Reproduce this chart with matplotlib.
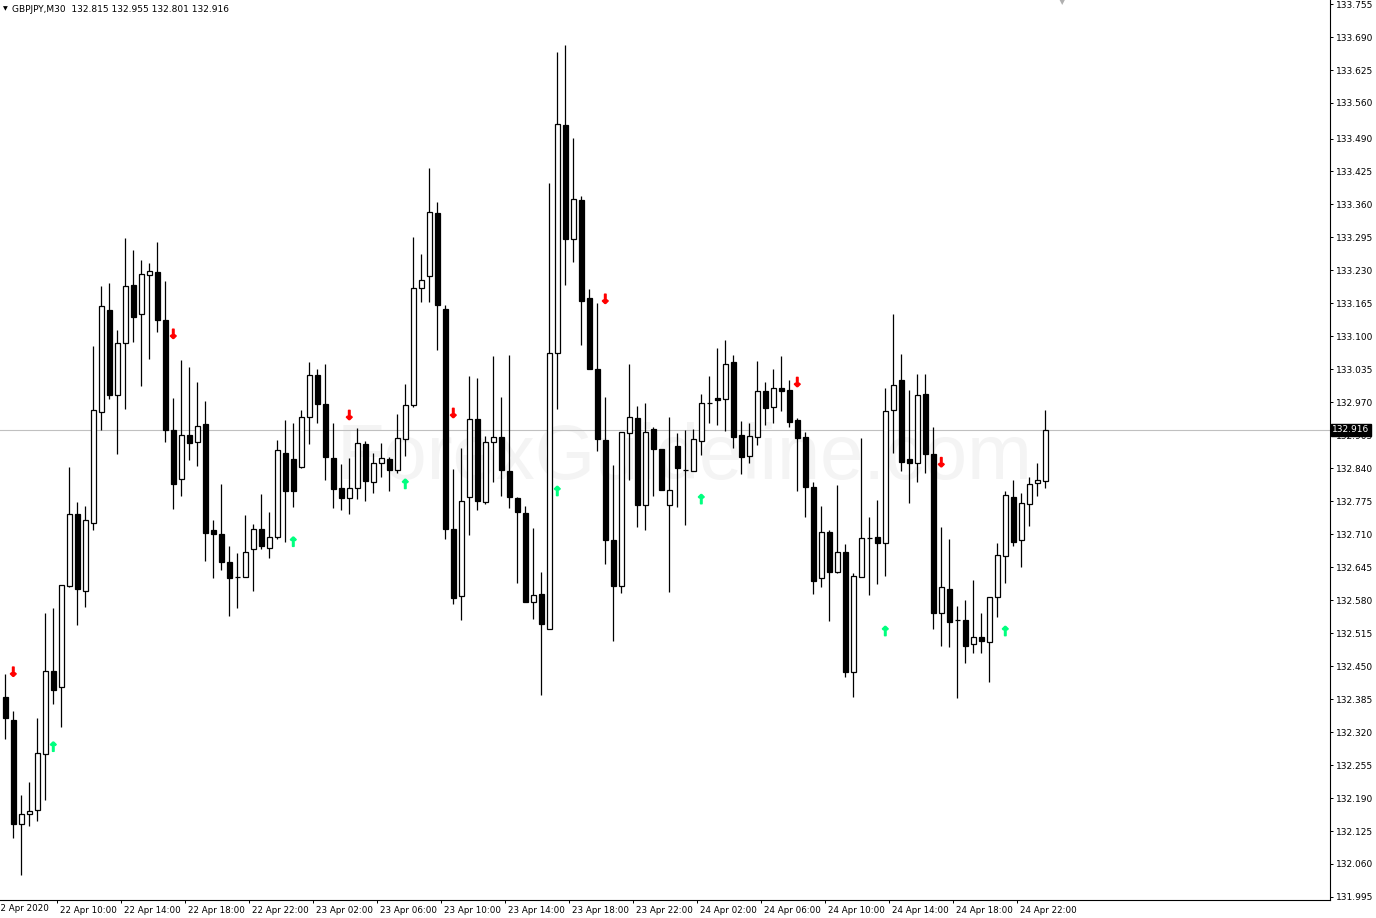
import numpy as np
import matplotlib
matplotlib.use('Agg')
import matplotlib.pyplot as plt
import matplotlib.transforms as mtrans
import matplotlib.patheffects as pe
from matplotlib.transforms import blended_transform_factory

# ─── Données (GBPJPY M30, 22-24 avril 2020) ───────────────
SYMBOL = 'GBPJPY,M30'
LAST = 132.916

opens = [132.389, 132.343, 132.139, 132.159, 132.167, 132.277, 132.441, 132.408, 132.608, 132.749,
         132.599, 132.733, 132.951, 133.151, 132.985, 133.086, 133.202, 133.145, 133.220, 133.227,
         133.132, 132.916, 132.818, 132.905, 132.891, 132.927, 132.718, 132.711, 132.656, 132.625,
         132.626, 132.680, 132.721, 132.682, 132.705, 132.870, 132.858, 132.843, 132.941, 133.023,
         132.966, 132.860, 132.801, 132.781, 132.801, 132.887, 132.812, 132.850, 132.858, 132.837,
         132.897, 132.964, 133.195, 133.218, 133.343, 133.153, 132.721, 132.589, 132.783, 132.937,
         132.774, 132.891, 132.901, 132.835, 132.781, 132.752, 132.577, 132.592, 132.524, 133.067,
         133.517, 133.291, 133.368, 133.176, 133.036, 132.896, 132.699, 132.607, 132.909, 132.939,
         132.767, 132.917, 132.878, 132.767, 132.883, 132.837, 132.835, 132.894, 132.969, 132.978,
         132.977, 133.049, 132.905, 132.865, 132.901, 132.992, 132.960, 132.998, 132.994, 132.935,
         132.902, 132.803, 132.623, 132.714, 132.636, 132.674, 132.439, 132.626, 132.702, 132.704,
         132.692, 132.955, 133.014, 132.858, 132.850, 132.986, 132.868, 132.555, 132.603, 132.540,
         132.541, 132.494, 132.507, 132.498, 132.586, 132.667, 132.783, 132.699, 132.769, 132.810,
         132.815]
highs = [132.434, 132.361, 132.195, 132.221, 132.347, 132.554, 132.565, 132.609, 132.842, 132.773,
         132.765, 133.081, 133.200, 133.205, 133.112, 133.293, 133.271, 133.250, 133.245, 133.286,
         133.209, 132.978, 133.054, 133.039, 133.011, 132.972, 132.738, 132.808, 132.686, 132.673,
         132.748, 132.730, 132.790, 132.753, 132.896, 132.935, 132.929, 132.954, 133.049, 133.035,
         133.045, 132.929, 132.849, 132.860, 132.919, 132.893, 132.870, 132.889, 132.863, 132.947,
         133.007, 133.295, 133.263, 133.432, 133.365, 133.161, 132.838, 132.879, 133.022, 133.018,
         132.903, 133.061, 132.980, 133.063, 132.784, 132.766, 132.722, 132.635, 133.402, 133.660,
         133.674, 133.491, 133.377, 133.194, 133.166, 132.980, 132.847, 132.911, 133.046, 132.962,
         132.968, 132.921, 132.878, 132.941, 132.909, 132.916, 132.917, 132.986, 133.022, 133.077,
         133.093, 133.063, 132.934, 132.929, 133.051, 133.010, 133.036, 133.061, 133.013, 132.940,
         132.912, 132.812, 132.766, 132.718, 132.807, 132.691, 132.634, 132.899, 132.743, 132.777,
         132.999, 133.145, 133.065, 132.994, 133.026, 133.026, 132.922, 132.724, 132.701, 132.569,
         132.580, 132.620, 132.554, 132.586, 132.693, 132.796, 132.817, 132.791, 132.822, 132.850,
         132.955]
lows = [132.306, 132.111, 132.038, 132.134, 132.145, 132.186, 132.375, 132.330, 132.606, 132.531,
        132.567, 132.719, 132.916, 132.977, 132.868, 132.956, 133.088, 133.002, 133.056, 133.109,
        132.892, 132.760, 132.786, 132.857, 132.845, 132.658, 132.624, 132.639, 132.549, 132.565,
        132.625, 132.598, 132.680, 132.663, 132.700, 132.694, 132.764, 132.841, 132.887, 132.929,
        132.816, 132.761, 132.757, 132.749, 132.779, 132.776, 132.792, 132.822, 132.796, 132.830,
        132.864, 132.960, 133.168, 133.168, 133.074, 132.700, 132.573, 132.541, 132.709, 132.757,
        132.769, 132.813, 132.786, 132.762, 132.614, 132.576, 132.543, 132.393, 132.524, 132.956,
        133.202, 133.246, 133.083, 133.036, 132.874, 132.652, 132.500, 132.594, 132.816, 132.724,
        132.719, 132.785, 132.797, 132.597, 132.764, 132.728, 132.835, 132.866, 132.930, 132.925,
        132.914, 132.879, 132.829, 132.851, 132.885, 132.926, 132.930, 132.952, 132.922, 132.796,
        132.743, 132.593, 132.605, 132.538, 132.634, 132.429, 132.390, 132.625, 132.590, 132.612,
        132.628, 132.871, 132.835, 132.772, 132.812, 132.830, 132.524, 132.490, 132.488, 132.388,
        132.456, 132.475, 132.475, 132.419, 132.546, 132.613, 132.686, 132.645, 132.727, 132.785,
        132.801]
closes = [132.348, 132.139, 132.159, 132.165, 132.279, 132.441, 132.403, 132.609, 132.749, 132.602,
          132.739, 132.954, 133.159, 132.985, 133.086, 133.200, 133.139, 133.222, 133.228, 133.133,
          132.916, 132.808, 132.905, 132.890, 132.924, 132.713, 132.711, 132.656, 132.624, 132.625,
          132.674, 132.721, 132.686, 132.705, 132.876, 132.796, 132.796, 132.941, 133.023, 132.966,
          132.862, 132.800, 132.781, 132.801, 132.889, 132.814, 132.850, 132.860, 132.837, 132.899,
          132.965, 133.195, 133.212, 133.345, 133.161, 132.721, 132.584, 132.776, 132.937, 132.776,
          132.891, 132.901, 132.836, 132.783, 132.753, 132.576, 132.590, 132.533, 133.067, 133.519,
          133.291, 133.371, 133.169, 133.036, 132.897, 132.699, 132.607, 132.911, 132.941, 132.767,
          132.911, 132.878, 132.797, 132.797, 132.841, 132.837, 132.898, 132.969, 132.969, 132.975,
          133.046, 132.902, 132.863, 132.903, 132.992, 132.958, 132.998, 132.993, 132.932, 132.899,
          132.804, 132.618, 132.714, 132.636, 132.674, 132.439, 132.628, 132.702, 132.702, 132.692,
          132.953, 133.005, 132.853, 132.850, 132.984, 132.868, 132.555, 132.605, 132.536, 132.540,
          132.490, 132.507, 132.500, 132.586, 132.669, 132.787, 132.695, 132.771, 132.808, 132.817,
          132.916]

# flèches de signal (indice de bougie, prix)
sell_idx = [1, 21, 43, 56, 75, 99, 117]
sell_px = [132.437, 133.103, 132.943, 132.947, 133.172, 133.008, 132.850]
buy_idx = [6, 36, 50, 69, 87, 110, 125]
buy_px = [132.289, 132.693, 132.807, 132.793, 132.777, 132.517, 132.517]

time_labels = ['22 Apr 2020', '22 Apr 10:00', '22 Apr 14:00', '22 Apr 18:00', '22 Apr 22:00',
               '23 Apr 02:00', '23 Apr 06:00', '23 Apr 10:00', '23 Apr 14:00', '23 Apr 18:00',
               '23 Apr 22:00', '24 Apr 02:00', '24 Apr 06:00', '24 Apr 10:00', '24 Apr 14:00',
               '24 Apr 18:00', '24 Apr 22:00']
price_ticks = [131.995, 132.060, 132.125, 132.190, 132.255, 132.320, 132.385, 132.450, 132.515,
               132.580, 132.645, 132.710, 132.775, 132.840, 132.905, 132.970, 133.035, 133.100,
               133.165, 133.230, 133.295, 133.360, 133.425, 133.490, 133.560, 133.625, 133.690,
               133.755]
# ──────────────────────────────────────────────────────────

W, H = 1376, 918
fig = plt.figure(figsize=(W / 100, H / 100), dpi=100)
ax = fig.add_axes([0, 18 / H, 1330 / W, 900 / H])

PX = 8.0  # pixels par bougie
ax.set_xlim(-5.3 / PX, (1330 - 5.3) / PX)
ax.set_ylim(131.989, 133.763)

o = np.array(opens)
c = np.array(closes)
idx = np.arange(len(o))
up = c >= o

ax.vlines(idx, lows, highs, color='black', lw=0.9, zorder=2)
ax.bar(idx, np.abs(c - o), bottom=np.minimum(o, c), width=0.6,
       color=np.where(up, 'white', 'black'), edgecolor='black', linewidth=0.9, zorder=3)

for i, p in zip(sell_idx, sell_px):
    ax.text(i, p, '\u2193', color='#ff0000', fontsize=9, fontweight='bold',
            ha='center', va='center', zorder=4,
            path_effects=[pe.withStroke(linewidth=1.1, foreground='#ff0000')])
for i, p in zip(buy_idx, buy_px):
    ax.text(i, p, '\u2191', color='#00ff7f', fontsize=9, fontweight='bold',
            ha='center', va='center', zorder=4,
            path_effects=[pe.withStroke(linewidth=1.1, foreground='#00ff7f')])

# ligne du dernier prix
ax.axhline(LAST, color='#c0c0c0', lw=0.8, zorder=1)

# filigrane
ax.text(0.515, 0.49, 'ForexGuideline.com', transform=ax.transAxes, fontsize=56,
        family='Liberation Sans', color='#f4f4f4', ha='center', va='center', zorder=0)

# axes style MT4
for s in ['top', 'left']:
    ax.spines[s].set_visible(False)
ax.spines['right'].set_linewidth(0.8)
ax.spines['bottom'].set_linewidth(0.8)

ax.yaxis.tick_right()
ax.set_yticks(price_ticks)
ax.set_yticklabels([f'{v:.3f}' for v in price_ticks])
ax.tick_params(axis='y', length=2.5, width=0.7, pad=2, labelsize=6.5)

# graduations temps : une toutes les 8 bougies, au bord gauche de la barre
tick_pos = [7 + 8 * (k - 1) - 0.5 for k in range(len(time_labels))]
ax.set_xticks(tick_pos[1:])
ax.set_xticklabels(time_labels[1:])
ax.tick_params(axis='x', length=2.5, width=0.7, pad=2, labelsize=6.3)
offset = mtrans.ScaledTranslation(3 / 100, 0, fig.dpi_scale_trans)
for lab in ax.get_xticklabels():
    lab.set_horizontalalignment('left')
    lab.set_transform(lab.get_transform() + offset)
trans = blended_transform_factory(ax.transData, ax.transAxes)
ax.text(tick_pos[0] + 0.2, -0.0045, time_labels[0], transform=trans, fontsize=6.3,
        ha='left', va='top', clip_on=False)

# étiquette du prix courant
ty = blended_transform_factory(ax.transAxes, ax.transData)
ax.text(1.0015, LAST, f'{LAST:.3f}', transform=ty, fontsize=6.5, color='white',
        ha='left', va='center', zorder=10, clip_on=False,
        bbox=dict(boxstyle='square,pad=0.15', fc='black', ec='black'))

# en-tête
fig.text(3 / W, 1 - 9 / H, '\u25BC', fontsize=4.5, va='center', ha='left')
fig.text(12 / W, 1 - 9 / H, f'{SYMBOL}  132.815 132.955 132.801 132.916',
         fontsize=6.5, va='center', ha='left')
fig.text(1062 / W, 1 - 2 / H, '\u25BC', fontsize=6, color='#b0b0b0', va='center', ha='center')

fig.savefig('out.png', dpi=100)
